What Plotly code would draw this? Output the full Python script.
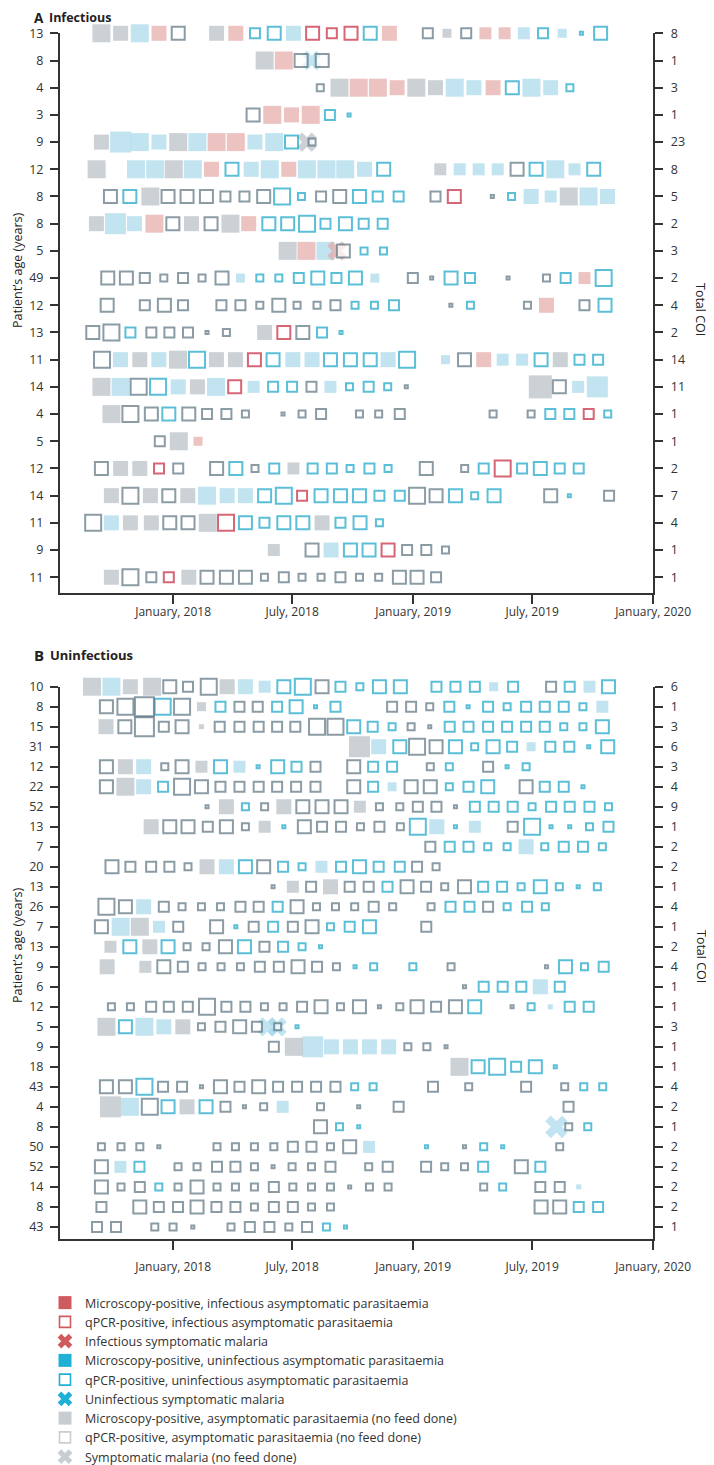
import plotly.graph_objects as go
from datetime import datetime, timedelta

# ---------------- data ----------------
# visit positions are counted in study months (about 29.2 days) from the first visit
FIRST_VISIT = datetime(2017, 9, 14)
VISIT_DAYS = 29.2

ages_A = [13, 8, 4, 3, 9, 12, 8, 8, 5, 49, 12, 13, 11, 14, 4, 5, 12, 14, 11, 9, 11]
coi_A = [8, 1, 3, 1, 23, 8, 5, 2, 3, 2, 4, 2, 14, 11, 1, 1, 2, 7, 4, 1, 1]
# token = visit:TypeLevel ; R/r/X infectious, B/b/Y uninfectious, G/g/Z no feed
# upper case = microscopy-positive, lower case = qPCR-positive, X/Y/Z = symptomatic
visits_A = [
    "0:G5 1:G4 2:B5 3:R4 4:g4 6:G4 7:R4 8:b3 9:b4 10:B4 11:r4 12:r3 13:r4 14:b4 15:R4 17:g3 18:G2 19:g3 20:R3 21:R3 22:B3 23:b3 24:B2 25:b1 26:b4",
    "8.5:G5 9.5:R5 10.4:g4 10.95:Y5 11.5:g4",
    "11.4:g2 12.4:G5 13.4:R5 14.4:R5 15.4:R4 16.4:G5 17.4:G4 18.4:B5 19.4:B4 20.4:R4 21.4:b4 22.4:B5 23.4:B4 24.4:b2",
    "7.9:g4 8.9:R5 9.9:R4 10.9:R5 11.9:b3 12.9:b1",
    "0:G4 1:B6 2:B5 3:B4 4:G5 5:B5 6:R5 7:R5 8:B4 9:B5 9.9:b4 10.7:Z5 10.97:g2",
    "-0.25:G5 1.8:B5 2.8:B5 3.77:G5 4.76:B5 5.73:R4 6.8:b4 7.8:B4 8.77:B5 9.76:R4 10.7:B5 11.72:B5 12.7:B5 13.7:B4 14.7:b4 17.65:G3 18.66:B3 19.65:B3 20.64:B3 21.65:g4 22.64:b4 23.64:B5 24.64:B3 25.64:b4",
    "0.47:g4 1.48:b4 2.55:G5 3.47:g4 4.46:g4 5.47:g4 6.46:g3 7.45:g3 8.45:g4 9.41:b5 10.42:b2 11.44:g3 12.41:g4 13.44:b4 14.39:b3 15.48:b3 17.4:g3 18.38:r4 20.36:g1 21.36:b2 22.38:B4 23.4:B3 24.34:G5 25.37:B5 26.36:B4",
    "-0.26:G4 0.73:B6 1.72:B4 2.76:R5 3.72:g4 4.69:G4 5.71:g4 6.72:G5 7.67:R4 8.72:b4 9.7:b4 10.71:b5 11.67:b3 12.71:b4 13.66:b3 14.65:b3",
    "9.7:G5 10.68:R5 11.67:B5 12.27:X5 12.6:g4 13.68:b2 14.69:b2",
    "0.33:g4 1.3:g4 2.26:g3 3.25:g2 4.25:g3 5.24:g2 6.28:g4 7.24:B2 8.25:b2 9.24:b2 10.28:b3 11.27:b4 12.24:b3 13.23:b4 14.24:B2 16.22:g3 17.2:g1 18.21:b4 19.2:b3 21.18:g1 23.18:g2 24.18:b3 25.16:R3 26.16:b5",
    "0.3:g4 2.26:g3 3.28:g4 4.25:g3 6.25:g3 7.24:g3 8.25:g2 9.24:g4 10.19:g2 11.23:g2 12.19:g3 13.21:b2 14.22:b2 15.24:b3 18.2:g1 19.22:b2 22.19:g2 23.18:R4 25.16:g3 26.23:b4",
    "-0.45:g4 0.52:g5 1.51:b3 2.6:g3 3.54:g3 4.51:g3 5.5:g1 6.51:g2 8.5:G4 9.5:r4 10.49:g4 11.49:b3 12.48:b1",
    "0.03:g5 0.99:B4 2:G4 2.99:B4 3.99:G5 4.98:b5 5.99:G4 6.98:G4 7.97:r4 8.94:b4 9.97:B4 10.97:B4 11.93:b4 12.97:b4 14:b4 14.93:B4 15.92:b5 17.92:B2 18.91:g4 19.91:R4 20.9:B3 21.91:B3 22.9:b4 23.9:G4 24.9:b3 25.87:b3",
    "0:G5 1:B5 1.94:g5 2.95:b5 4:B4 5:G4 5.97:B5 6.94:r4 7.93:B3 8.94:b3 9.93:b3 10.94:g3 11.93:B3 12.92:b2 13.92:b3 14.91:b2 15.88:g1 22.86:G7 23.85:g4 24.83:B3 25.83:B6",
    "0.52:G5 1.51:g5 2.6:g4 3.51:b4 4.55:g4 5.5:g3 6.51:g3 7.5:g2 9.46:g1 10.45:g2 11.44:g3 13.44:g2 14.44:g2 15.54:g3 20.4:g2 22.38:g2 23.38:b3 24.37:b3 25.38:r3 26.37:b2",
    "3.04:g3 4.03:G5 5.03:R2",
    "0:g4 1:G4 2:G4 3:r3 4:g3 6:g4 7:b4 8:g2 9:b3 10:G3 11:b3 12:b3 12.95:b2 13.96:b3 14.93:b2 16.92:g4 18.92:g2 19.91:b3 20.9:r5 21.91:b3 22.86:b4 23.87:b3 24.86:b3",
    "0.52:G4 1.51:g5 2.55:G4 3.51:g4 4.5:G4 5.5:B5 6.55:B4 7.5:B4 8.5:b4 9.5:b5 10.45:r3 11.44:b4 12.45:b4 13.44:b4 14.48:b3 15.54:b3 16.44:g5 17.43:g4 18.44:b4 19.44:b2 20.45:b4 23.4:g4 24.37:b1 26.44:g3",
    "-0.43:g5 0.52:B4 1.51:G4 2.6:G4 3.56:g4 4.51:g4 5.54:G5 6.49:r5 7.5:b4 8.49:b3 9.5:b4 10.49:b4 11.49:G4 12.45:b3 13.47:b4 14.48:b2",
    "8.98:G3 10.97:g4 11.96:B4 12.97:b4 13.94:b4 14.93:r4 15.92:g3 16.92:g3 17.92:g2",
    "0.52:G4 1.51:g5 2.6:g3 3.51:r3 4.55:G4 5.5:g4 6.51:g4 7.5:g4 8.49:g2 9.5:g3 10.45:g2 11.44:g2 12.45:g3 13.44:g2 14.44:g2 15.52:g4 16.44:g4 17.43:g3",
]

ages_B = [10, 8, 15, 31, 12, 22, 52, 13, 7, 20, 13, 26, 7, 13, 9, 6, 12, 5, 9, 18, 43, 4, 8, 50, 52, 14, 8, 43]
coi_B = [6, 1, 3, 6, 3, 4, 9, 1, 2, 2, 1, 4, 1, 2, 4, 1, 1, 3, 1, 1, 4, 2, 1, 2, 2, 2, 2, 1]
visits_B = [
    "-0.49:G5 0.52:B5 1.51:G4 2.64:G5 3.56:g4 4.51:g3 5.59:g5 6.55:G4 7.5:B4 8.5:B3 9.5:b4 10.49:b5 11.49:g4 12.45:b3 13.46:b2 14.48:b4 15.57:b4 17.45:b3 18.44:b3 19.45:b3 20.43:B2 21.44:b3 23.42:g3 24.39:b3 25.42:B3 26.41:b4",
    "0.26:g4 1.25:g5 2.24:g6 3.19:b5 4.2:g5 5.21:G2 6.2:b3 7.19:g3 8.14:g3 9.15:b3 10.14:b4 11.15:b1 12.19:b3 15.14:g3 16.13:g3 17.1:g2 18.12:b3 19.1:b1 20.14:b3 21.13:b2 22.12:b3 23.09:b3 24.08:b3 25.08:b2 26.09:B3",
    "0.24:G4 1.22:g4 2.24:g6 3.25:g3 4.2:g4 5.21:G1 6.16:g3 7.19:g3 8.19:g3 9.15:g3 10.1:g3 11.23:g5 12.19:g5 13.14:b4 14.13:b3 15.14:b2 16.13:g2 17.1:g1 18.14:b3 19.12:b3 20.14:b3 21.13:b3 22.12:b3 23.09:b3 24.08:b2 25.08:b2 26.09:b4",
    "13.44:G6 14.44:B4 15.54:b4 16.44:g5 17.43:g4 18.44:b4 19.44:b2 20.4:b4 21.39:b3 22.38:B2 23.38:b3 24.37:b3 25.38:b1 26.37:b4",
    "0.26:g4 1.25:G4 2.2:B4 3.3:g2 4.2:g4 5.21:G3 6.2:b4 7.19:B3 8.16:b1 9.18:b4 10.16:b3 11.15:g3 13.14:g4 14.15:b3 15.14:b3 17.13:g2 18.12:b2 20.14:g3 21.13:b1 22.12:b2",
    "0.26:g4 1.25:G5 2.2:B4 3.21:b3 4.2:g5 5.21:g4 6.2:g3 7.19:g3 8.19:g3 9.15:g3 10.14:g3 11.15:g3 13.14:g4 14.15:b3 15.14:B2 16.13:g4 17.13:g4 18.12:b2 19.12:b3 20.12:b4 22.12:g4 23.09:b3 24.08:b3 25.08:b1",
    "5.5:g1 6.51:G4 7.5:b2 8.5:g2 9.5:G4 10.49:g4 11.49:g4 12.48:g4 13.46:G3 14.48:g2 15.54:g2 16.48:g3 17.45:g3 18.44:g1 19.45:b3 20.43:b3 21.42:b3 22.43:b2 23.42:b3 24.39:b3 25.42:b3 26.41:b2",
    "2.59:G4 3.56:g4 4.51:g4 5.54:g3 6.51:g4 7.5:g2 8.5:G3 9.5:b1 10.57:g4 11.49:g3 12.48:g3 13.49:g2 14.48:g3 15.57:g2 16.48:b5 17.47:B4 18.44:b1 19.45:B3 21.42:g3 22.43:b5 23.42:b1 24.39:b1 25.42:b2 26.41:b3",
    "17.13:g3 18.14:b3 19.12:b3 20.12:b2 21.13:b2 22.12:B4 23.09:b2 24.08:b3 25.08:b3 26.09:b2",
    "0.55:g4 1.51:g3 2.59:g3 3.54:g3 4.51:g2 5.5:G4 6.51:B4 7.5:b4 8.45:g4 9.46:b3 10.45:b2 11.46:B3 12.48:b3 13.44:b4 14.44:b3 15.54:b3 16.44:g3 17.43:g2",
    "8.94:g1 9.97:G3 10.92:g3 11.93:G4 12.93:g3 13.92:g3 14.9:b3 15.92:g4 16.91:g3 17.88:g2 18.91:g4 19.88:b3 20.87:b3 21.86:b2 22.86:b4 23.85:b2 24.83:b1 25.83:b2",
    "0.26:g5 1.25:g4 2.2:B4 3.25:g3 4.2:g2 5.21:g2 6.2:g2 7.24:g3 8.19:g3 9.18:b3 10.19:g4 11.2:g2 12.19:g2 13.19:g2 14.18:g3 15.17:g2 17.17:g2 18.18:b3 19.17:b3 20.14:g3 21.13:b2 22.17:b3 23.12:b2",
    "0:g4 1:B5 2:G5 3:B3 4:g3 6:g4 7:b1 7.93:g3 8.94:b3 9.97:g3 10.97:g4 11.93:b2 12.93:b3 13.96:b4 16.92:g3",
    "0.47:G3 1.48:b4 2.52:G4 3.47:b4 4.46:g2 5.45:g2 6.46:g4 7.45:b4 8.49:g3 9.46:b3 10.45:b2 11.41:b1",
    "0.3:G4 2.29:G3 3.25:g4 4.24:g3 5.24:g2 6.23:g2 7.24:g2 8.25:g3 9.24:g3 10.24:g4 11.23:g3 12.24:g2 13.21:b1 14.18:b2 16.22:b2 18.21:g2 23.18:g1 24.17:b4 25.16:b2 26.16:b3",
    "18.91:g1 19.91:b3 20.9:b3 21.87:b3 22.86:B4 23.87:b3",
    "0.52:g2 1.51:g2 2.59:g3 3.51:g3 4.5:g3 5.5:g5 6.51:g3 7.5:g3 8.49:g2 9.46:g2 10.45:g3 11.44:g4 12.45:g2 13.44:g4 14.48:g1 15.54:g2 16.44:g4 17.43:g3 18.44:g4 19.44:b4 21.39:g1 22.38:b2 23.38:B1 24.39:b3 25.38:b3",
    "0.26:G5 1.25:b4 2.24:B5 3.25:B4 4.24:G4 5.21:g2 6.2:g3 7.2:g4 8.1:g3 8.64:Y5 9.15:Y5 9.18:g2 10.19:b1",
    "8.98:g3 10.02:G5 11:B6 11.98:B4 12.97:B4 13.96:B4 14.96:B4 15.96:g2 16.95:g2 17.95:g1",
    "18.65:G5 19.62:b4 20.61:b5 21.6:b3 22.6:b4 23.64:b1",
    "0.26:g4 1.25:g4 2.24:b5 3.21:g3 4.2:g3 5.21:g1 6.2:g4 7.19:g3 8.19:g4 9.2:g3 10.19:g3 11.18:g3 12.19:g3 13.19:b2 14.15:b2 17.27:g3 19.13:g2 22.12:g3 24.13:g2 25.12:b2 26.11:b2",
    "0.47:G6 1.48:B5 2.52:g5 3.47:b4 4.46:G4 5.45:b4 6.46:g3 7.45:g1 8.45:g2 9.44:B3 11.41:g2 13.4:g1 15.48:g3 24.33:g3",
    "11.41:g4 12.4:b2 13.4:b1 23.7:Y6 24.34:g2 25.33:b2",
    "0:g2 1.02:g2 2:g2 2.99:g1 6.02:g2 6.98:g2 7.97:g2 8.98:g2 9.97:g3 10.94:g3 11.93:g2 12.93:g4 13.94:B3 16.93:b1 18.91:g1 19.91:b2 20.9:b1 23.87:g2",
    "0:g4 0.99:B3 1.98:b3 3.99:g2 4.98:g2 6.02:g3 6.98:g3 7.97:g2 8.94:g1 9.93:g2 10.94:g2 11.93:g3 13.92:g2 14.91:g3 16.91:g3 17.88:g2 18.91:g2 19.88:b3 21.87:g4 22.86:b3",
    "0:g4 1.02:g2 2:g3 2.99:b2 3.99:g2 4.98:g4 6.02:g2 6.98:g2 7.97:g2 8.98:g3 9.97:g2 10.94:g2 11.93:g2 12.93:g1 13.96:g2 14.93:g2 19.91:g2 20.9:b2 22.86:g3 23.87:g3 24.86:B1",
    "0:g3 2:g4 2.99:g3 3.99:g3 4.98:g4 5.99:g3 6.98:g3 7.97:g2 8.98:g3 9.97:g3 10.94:g2 11.93:g2 22.9:g4 23.87:g4 24.86:b3 25.87:b3",
    "-0.23:g3 0.76:g3 2.78:g2 3.73:g2 4.76:g1 6.75:g2 7.73:g3 8.75:g3 9.76:g2 10.71:g3 11.72:b2 12.71:b1",
]

x_tickvals = ["2018-01-01", "2018-07-01", "2019-01-01", "2019-07-01", "2020-01-01"]
x_ticktext = ["January, 2018", "July, 2018", "January, 2019", "July, 2019", "January, 2020"]

legend_names = [
    ("R", "Microscopy-positive, infectious asymptomatic parasitaemia"),
    ("r", "qPCR-positive, infectious asymptomatic parasitaemia"),
    ("X", "Infectious symptomatic malaria"),
    ("B", "Microscopy-positive, uninfectious asymptomatic parasitaemia"),
    ("b", "qPCR-positive, uninfectious asymptomatic parasitaemia"),
    ("Y", "Uninfectious symptomatic malaria"),
    ("G", "Microscopy-positive, asymptomatic parasitaemia (no feed done)"),
    ("g", "qPCR-positive, asymptomatic parasitaemia (no feed done)"),
    ("Z", "Symptomatic malaria (no feed done)"),
]

# ---------------- styles ----------------
W, H = 714, 1465
PAGE_OFFSET = 8          # the html body margin shifts the figure by 8 px
FONT = "Open Sans"
INK = "#333333"
LEVEL_PX = {1: 5, 2: 9, 3: 12, 4: 15, 5: 18, 6: 21, 7: 23}
LW = 2.0
STYLE = {
    "R": ("square", "#e4a9a6", None),
    "r": ("square-open", "#c6263d", "hollow"),
    "X": ("x", "#e4a9a6", None),
    "B": ("square", "#a6d9ea", None),
    "b": ("square-open", "#17a5c8", "hollow"),
    "Y": ("x", "#a6d9ea", None),
    "G": ("square", "#b7bec5", None),
    "g": ("square-open", "#5b7380", "hollow"),
    "Z": ("x", "#b7bec5", None),
}
LEGEND_COL = {
    "R": "#cf5b5f", "r": "#cf5b5f", "X": "#cf5b5f",
    "B": "#1fb0d5", "b": "#1fb0d5", "Y": "#1fb0d5",
    "G": "#c8cdd2", "g": "#c8cdd2", "Z": "#c8cdd2",
}
DRAW_ORDER = ["R", "B", "G", "X", "Y", "Z", "r", "b", "g"]


def px_x(p):
    return (p - PAGE_OFFSET) / W


def px_y(p):
    return 1 - (p - PAGE_OFFSET) / H


def visit_date(pos):
    return FIRST_VISIT + timedelta(days=pos * VISIT_DAYS)


def parse(rows):
    out = {t: ([], [], []) for t in STYLE}
    for i, row in enumerate(rows):
        for tok in row.split():
            pos, code = tok.split(":")
            t, lvl = code[0], int(code[1:])
            out[t][0].append(visit_date(float(pos)))
            out[t][1].append(i)
            out[t][2].append(LEVEL_PX[lvl])
    return out


fig = go.Figure()


def add_panel(rows, xa, ya):
    data = parse(rows)
    for t in DRAW_ORDER:
        xs, ys, ss = data[t]
        if not xs:
            continue
        sym, col, kind = STYLE[t]
        if kind == "hollow":
            marker = dict(symbol="square", color="white", size=[s - LW for s in ss],
                          line=dict(color=col, width=LW))
        elif sym == "x":
            marker = dict(symbol="x", color=col, size=[s * 0.95 for s in ss], line=dict(width=0))
        else:
            marker = dict(symbol="square", color=col, size=ss, line=dict(width=0))
        fig.add_trace(go.Scatter(x=xs, y=ys, mode="markers", marker=marker,
                                 xaxis=xa, yaxis=ya, showlegend=False,
                                 cliponaxis=False, hoverinfo="skip"))


add_panel(visits_A, "x", "y")
add_panel(visits_B, "x2", "y3")

# legend-only traces
for t, name in legend_names:
    sym, _, kind = STYLE[t]
    c = LEGEND_COL[t]
    if kind == "hollow":
        marker = dict(symbol="square", color="white", size=11, line=dict(color=c, width=1.6))
    elif sym == "x":
        marker = dict(symbol="x", color=c, size=13, line=dict(width=0))
    else:
        marker = dict(symbol="square", color=c, size=13, line=dict(width=0))
    fig.add_trace(go.Scatter(x=[None], y=[None], mode="markers", marker=marker,
                             name=name, xaxis="x", yaxis="y", showlegend=True))

x_dom = [px_x(60), px_x(653.3)]
x_range = ["2017-07-13", "2020-01-01 08:00"]

common_x = dict(type="date", range=x_range, domain=x_dom, tickvals=x_tickvals,
                ticktext=x_ticktext, ticks="outside", ticklen=9, tickwidth=1.5,
                tickcolor=INK, showline=True, linewidth=2, linecolor=INK,
                showgrid=False, zeroline=False, automargin=False,
                tickfont=dict(family=FONT, size=12, color=INK))
common_y = dict(ticks="outside", ticklen=8, tickwidth=1.5, tickcolor=INK,
                showline=True, linewidth=2, linecolor=INK, showgrid=False,
                zeroline=False, automargin=False,
                tickfont=dict(family=FONT, size=12.5, color=INK))

nA, nB = len(ages_A), len(ages_B)
rangeA = [nA - 1 + 0.59, 0]
rangeB = [nB - 1 + 0.58, 0]
domA = [px_y(593.3), px_y(33.3)]
domB = [px_y(1238.5), px_y(686.7)]

fig.update_layout(
    width=W, height=H,
    margin=dict(l=0, r=0, t=0, b=0, pad=0, autoexpand=False),
    paper_bgcolor="white", plot_bgcolor="white",
    font=dict(family=FONT, color=INK, size=12.5),
    xaxis=dict(common_x, anchor="y", ticklabelstandoff=-3),
    xaxis2=dict(common_x, anchor="y3", ticklabelstandoff=7),
    yaxis=dict(common_y, domain=domA, range=rangeA, anchor="x",
               tickvals=list(range(nA)), ticktext=[str(a) for a in ages_A],
               ticklabelstandoff=4),
    yaxis2=dict(common_y, domain=domA, range=rangeA, anchor="x", overlaying="y",
                side="right", tickvals=list(range(nA)),
                ticktext=[str(c) for c in coi_A], ticklabelstandoff=5),
    yaxis3=dict(common_y, domain=domB, range=rangeB, anchor="x2",
                tickvals=list(range(nB)), ticktext=[str(a) for a in ages_B],
                ticklabelstandoff=4),
    yaxis4=dict(common_y, domain=domB, range=rangeB, anchor="x2", overlaying="y3",
                side="right", tickvals=list(range(nB)),
                ticktext=[str(c) for c in coi_B], ticklabelstandoff=5),
    legend=dict(x=px_x(45), y=px_y(1288), xanchor="left", yanchor="top",
                font=dict(family=FONT, size=12.5, color=INK),
                bgcolor="rgba(0,0,0,0)", itemsizing="trace", tracegroupgap=0),
    showlegend=True,
)

# dummy traces so that the right-hand axes render
fig.add_trace(go.Scatter(x=[None], y=[None], xaxis="x", yaxis="y2", showlegend=False))
fig.add_trace(go.Scatter(x=[None], y=[None], xaxis="x2", yaxis="y4", showlegend=False))

ann = []


def text(px, py, s, size, bold=False, angle=0, xanchor="left", yanchor="middle"):
    ann.append(dict(x=px_x(px), y=px_y(py), xref="paper", yref="paper",
                    text=f"<b>{s}</b>" if bold else s, showarrow=False,
                    xanchor=xanchor, yanchor=yanchor, textangle=angle, borderpad=0,
                    font=dict(family=FONT, size=size, color="#222222")))


text(33, 8.2, "A", 13.5, bold=True, yanchor="top")
text(48, 8.2, "Infectious", 12.5, bold=True, yanchor="top")
text(33, 655, "B", 15, bold=True)
text(49, 655, "Uninfectious", 13, bold=True)
text(17, 270, "Patient’s age (years)", 12.5, angle=-90, xanchor="center")
text(17, 945, "Patient’s age (years)", 12.5, angle=-90, xanchor="center")
text(701, 309, "Total COI", 12.5, angle=90, xanchor="center")
text(701, 956, "Total COI", 12.5, angle=90, xanchor="center")
fig.update_layout(annotations=ann)

fig.write_html("out.html")
